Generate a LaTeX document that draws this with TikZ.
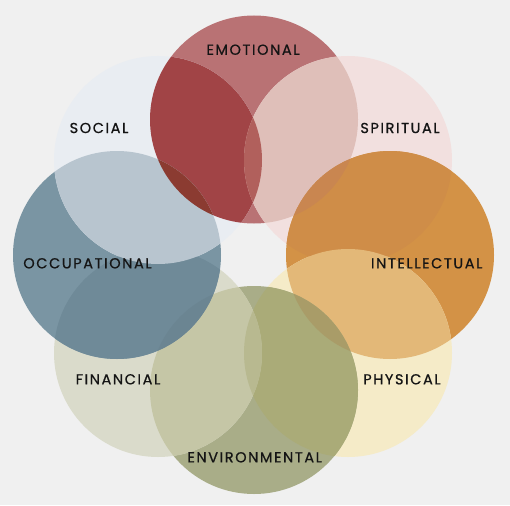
\documentclass[tikz,border=0pt]{standalone}
\usepackage{fontspec}
\setmainfont{Poppins}[LetterSpace=11,FakeBold=0.7]
\definecolor{bgc}{HTML}{F0F0F0}
\definecolor{emoC}{HTML}{B97274}
\definecolor{spiC}{HTML}{F2E0DF}
\definecolor{intC}{HTML}{D39246}
\definecolor{phyC}{HTML}{F5EBC8}
\definecolor{envC}{HTML}{A9AD88}
\definecolor{finC}{HTML}{DADBCB}
\definecolor{occC}{HTML}{7A95A3}
\definecolor{socC}{HTML}{E9EDF2}
\definecolor{emoSoc}{HTML}{A14446}
\definecolor{emoSpi}{HTML}{DFBFB9}
\definecolor{spiInt}{HTML}{CF8D48}
\definecolor{intPhy}{HTML}{E3B878}
\definecolor{phyEnv}{HTML}{AAAB78}
\definecolor{envFin}{HTML}{C5C6A6}
\definecolor{finOcc}{HTML}{6F8A98}
\definecolor{occSoc}{HTML}{B8C5CF}
\definecolor{emoSocOcc}{HTML}{8B3B31}
\definecolor{socSpi}{HTML}{B1605C}
\definecolor{emoInt}{HTML}{C98650}
\definecolor{intEnv}{HTML}{A99C68}
\definecolor{phyFin}{HTML}{B8B990}
\definecolor{occEnv}{HTML}{6B8592}
\definecolor{txt}{HTML}{141414}
\tikzset{lbl/.style={text=txt,font=\fontsize{14.5}{16}\selectfont,inner sep=0pt}}
\newcommand{\R}{104}
\newcommand{\lens}[3]{\begin{scope}\clip (#1) circle (\R);\fill[#3] (#2) circle (\R);\end{scope}}
\begin{document}
\begin{tikzpicture}[x=1pt,y=-1pt]
\fill[bgc] (0,0) rectangle (510,505);
\useasboundingbox (0,0) rectangle (510,505);
\coordinate (E) at (254,119.5);
\coordinate (Sp) at (348,160);
\coordinate (I) at (390,255);
\coordinate (Ph) at (348,353);
\coordinate (Env) at (254,390);
\coordinate (F) at (158,353);
\coordinate (O) at (117,255);
\coordinate (So) at (158,160);
% base circles
\fill[emoC] (E) circle (\R);
\fill[spiC] (Sp) circle (\R);
\fill[intC] (I) circle (\R);
\fill[phyC] (Ph) circle (\R);
\fill[envC] (Env) circle (\R);
\fill[finC] (F) circle (\R);
\fill[occC] (O) circle (\R);
\fill[socC] (So) circle (\R);
% pair overlaps
\lens{E}{So}{emoSoc}
\lens{E}{Sp}{emoSpi}
\lens{Sp}{I}{spiInt}
\lens{I}{Ph}{intPhy}
\lens{Ph}{Env}{phyEnv}
\lens{Env}{F}{envFin}
\lens{F}{O}{finOcc}
\lens{O}{So}{occSoc}
% triple overlaps
\begin{scope}\clip (E) circle (\R);\clip (So) circle (\R);\fill[emoSocOcc] (O) circle (\R);\end{scope}
\lens{So}{Sp}{socSpi}
\lens{E}{I}{emoInt}
\lens{I}{Env}{intEnv}
\lens{Ph}{F}{phyFin}
\lens{O}{Env}{occEnv}
% labels
\node[lbl] (tE) at (253,49.7) {EMOTIONAL};
\node[lbl] (tSo) at (99,128) {SOCIAL};
\node[lbl] (tSp) at (400,128) {SPIRITUAL};
\node[lbl] (tO) at (87.5,263.3) {OCCUPATIONAL};
\node[lbl] (tI) at (426.7,263.3) {INTELLECTUAL};
\node[lbl] (tF) at (118,379.3) {FINANCIAL};
\node[lbl] (tPh) at (402,379.3) {PHYSICAL};
\node[lbl] (tEnv) at (254.7,457.3) {ENVIRONMENTAL};
\end{tikzpicture}
\end{document}
